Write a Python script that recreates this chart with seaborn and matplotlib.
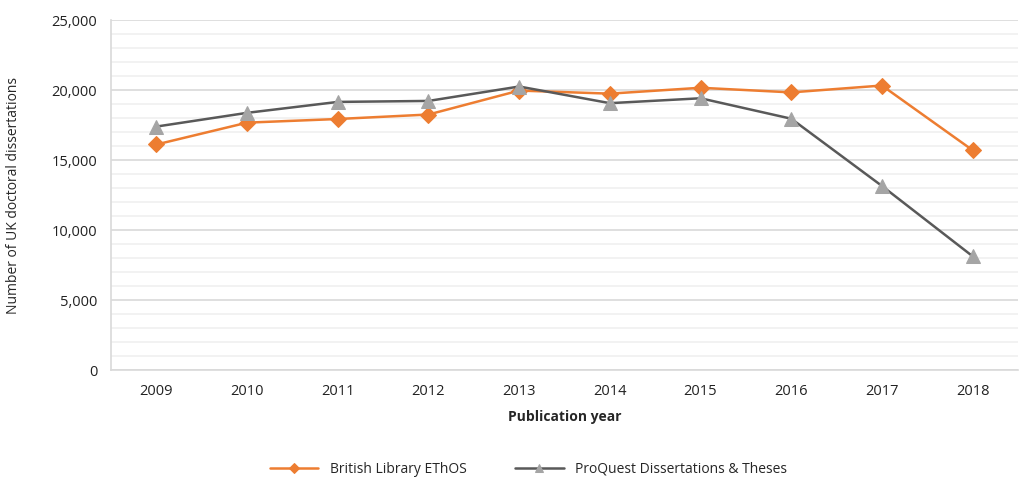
import pandas as pd
import matplotlib.pyplot as plt
import seaborn as sns

# Values
years = ['2009', '2010', '2011', '2012', '2013', '2014', '2015', '2016', '2017', '2018']
ethos = [16120, 17680, 17940, 18260, 19970, 19750, 20170, 19840, 20330, 15710]
proquest = [17400, 18380, 19160, 19230, 20260, 19070, 19420, 17960, 13160, 8140]
series_names = ['British Library EThOS', 'ProQuest Dissertations & Theses']

df = pd.DataFrame({
    'pos': list(range(len(years))) * 2,
    'count': ethos + proquest,
    'source': [series_names[0]] * len(years) + [series_names[1]] * len(years),
})

sns.set_style('white')
plt.rcParams['font.family'] = ['Open Sans', 'DejaVu Sans']

fig, ax = plt.subplots(figsize=(10.19, 4.79), dpi=100)
fig.subplots_adjust(left=0.109, right=0.999, top=0.958, bottom=0.227)

# minor / major gridlines
for v in range(0, 25001, 1000):
    ax.axhline(v, color='#d9d9d9' if v % 5000 == 0 else '#f0f0f0', lw=1.2, zorder=0)

sns.lineplot(data=df[df['source'] == series_names[0]], x='pos', y='count', color='#ED7D31',
             marker='D', markersize=8, markeredgecolor='#ED7D31', lw=1.8, ax=ax,
             label=series_names[0])
sns.lineplot(data=df[df['source'] == series_names[1]], x='pos', y='count', color='#595959',
             marker='^', markersize=10, markerfacecolor='#A5A5A5', markeredgecolor='#A5A5A5',
             lw=1.8, ax=ax, label=series_names[1])

ax.set_xlim(-0.5, len(years) - 0.5)
ax.set_ylim(0, 25000)
ax.set_xticks(range(len(years)))
ax.set_xticklabels(years, fontsize=10.5)
ax.set_yticks(range(0, 25001, 5000))
ax.set_yticklabels([f'{v:,}' for v in range(0, 25001, 5000)], fontsize=10.5)
ax.tick_params(axis='both', length=0, pad=10, colors='#222222')

for s in ['top', 'right']:
    ax.spines[s].set_visible(False)
for s in ['left', 'bottom']:
    ax.spines[s].set_color('#d9d9d9')
    ax.spines[s].set_linewidth(1.2)

ax.set_xlabel('Publication year', fontsize=10, fontweight='bold', labelpad=8)
ax.set_ylabel('Number of UK doctoral dissertations', fontsize=10, labelpad=22)

ax.legend(loc='upper center', bbox_to_anchor=(0.46, -0.225), ncol=2, frameon=False,
          fontsize=10, handlelength=3.5, columnspacing=3.5, markerscale=0.6)

fig.savefig('out.png', dpi=100)
